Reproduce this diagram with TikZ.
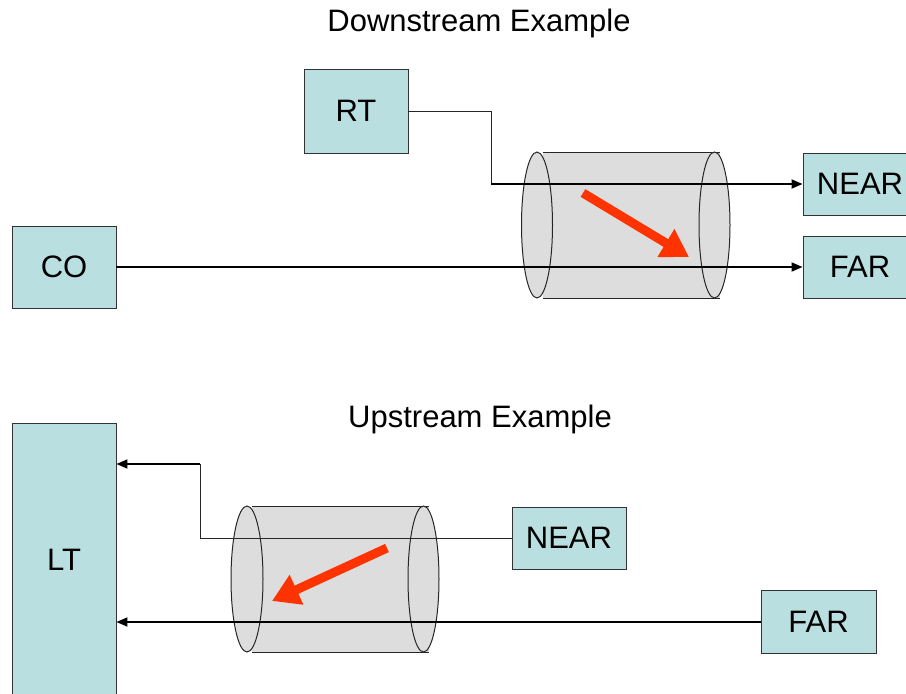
\documentclass[tikz,border=0pt]{standalone}
\usepackage{fontspec}
\setmainfont{Liberation Sans}
\usetikzlibrary{arrows.meta}
\definecolor{boxfill}{HTML}{B9DFE1}
\definecolor{cablefill}{HTML}{DDDDDD}
\definecolor{xtalk}{HTML}{FF3300}
\tikzset{
  unit/.style={draw=black!80, line width=0.9pt, fill=boxfill, inner sep=0pt,
    font=\fontsize{31pt}{37pt}\selectfont},
  thinwire/.style={draw=black!85, line width=1pt},
  thickwire/.style={draw=black, line width=1.8pt,
    -{Triangle[length=11pt,width=9pt]}},
  cable/.style={draw=black!85, line width=1pt, fill=cablefill},
  noise/.style={draw=xtalk, line width=9pt,
    -{Triangle[length=27pt,width=31pt]}},
  heading/.style={font=\fontsize{31pt}{37pt}\selectfont}
}
\begin{document}
\begin{tikzpicture}[x=1pt,y=-1pt]
\useasboundingbox (0,0) rectangle (906,694);

% ---------- downstream ----------
\node[heading] (dtitle) at (479,23) {Downstream Example};

% cable bundle
\path[cable, draw=none] (543,152) rectangle (720,298);
\draw[cable] (543,152) -- (720,152) (543,298) -- (720,298);
\draw[cable] (537,225) ellipse [x radius=15.5, y radius=73];
\draw[cable] (714.5,225) ellipse [x radius=15.5, y radius=73];

\node[unit, minimum width=104pt, minimum height=84pt] (rt) at (356,111) {RT};
\node[unit, minimum width=104pt, minimum height=82pt] (co) at (64,267) {CO};
\node[unit, minimum width=114pt, minimum height=62pt] (dnear) at (860,184) {NEAR};
\node[unit, minimum width=114pt, minimum height=62pt] (dfar) at (860,267) {FAR};

\coordinate (dbend) at (491,184);
\draw[thinwire] (rt.east) -| (dbend);
\draw[thickwire] (dbend) -- (dnear.west);
\draw[thickwire] (co.east) -- (dfar.west);

\coordinate (dn1) at (583,193);
\coordinate (dn2) at (689,257);
\draw[noise] (dn1) -- (dn2);

% ---------- upstream ----------
\node[heading] (utitle) at (480,419) {Upstream Example};

\path[cable, draw=none] (252,506) rectangle (429,652);
\draw[cable] (252,506) -- (429,506) (252,652) -- (429,652);
\draw[cable] (247,579) ellipse [x radius=16, y radius=73];
\draw[cable] (423.5,579) ellipse [x radius=15.5, y radius=73];

\node[unit, minimum width=104pt, minimum height=274pt] (lt) at (64,560) {LT};
\node[unit, minimum width=114pt, minimum height=62pt] (unear) at (569,538) {NEAR};
\node[unit, minimum width=115pt, minimum height=63pt] (ufar) at (818.5,622) {FAR};

\coordinate (ubend) at (200,464);
\draw[thinwire] (unear.west) -| (ubend);
\draw[thickwire] (ubend) -- (lt.east |- ubend);
\draw[thickwire] (ufar.west) -- (lt.east |- ufar.west);

\coordinate (un1) at (387,548);
\coordinate (un2) at (272,601);
\draw[noise] (un1) -- (un2);
\end{tikzpicture}
\end{document}
